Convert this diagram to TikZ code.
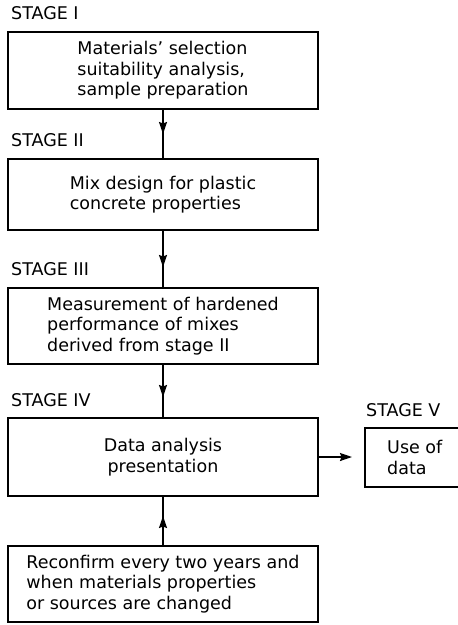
\documentclass[tikz,border=0pt]{standalone}
\usepackage{fontspec}
\setmainfont{DejaVu Sans}
\usetikzlibrary{arrows.meta}
\begin{document}
\begin{tikzpicture}[x=1pt,y=-1pt,
  txt/.style={font=\fontsize{17.5}{20.5}\selectfont},
  box/.style={draw, line width=1.3pt, minimum width=310pt, align=left, inner sep=0pt, txt},
  stagelabel/.style={anchor=base west, inner sep=0pt, txt},
  conn/.style={line width=1.6pt},
  tip/.style={-{Stealth[length=12pt,width=8pt,inset=1.5pt]}}]
\useasboundingbox (0,0) rectangle (458,625);
\clip (0,0) rectangle (458,625);
\fill[white] (0,0) rectangle (458,625);

\node[stagelabel] (l1) at (11,19) {STAGE I};
\node[stagelabel] (l2) at (11,146) {STAGE II};
\node[stagelabel] (l3) at (11,275) {STAGE III};
\node[stagelabel] (l4) at (11,406) {STAGE IV};
\node[stagelabel] (l5) at (366,416) {STAGE V};

\node[box, minimum height=77pt] (s1) at (163,70.5) {Materials’ selection\\suitability analysis,\\sample preparation};
\node[box, minimum height=71pt] (s2) at (163,194.5) {Mix design for plastic\\concrete properties};
\node[box, minimum height=76pt] (s3) at (163,326) {Measurement of hardened\\performance of mixes\\derived from stage II};
\node[box, minimum height=78pt, align=center] (s4) at (163,457) {Data analysis\\presentation};
\node[draw, line width=1.3pt, minimum width=110pt, minimum height=59pt, inner sep=0pt] (s5) at (420,457.5) {};
\node[anchor=west, inner sep=0pt, align=left, txt] (s5t) at (387,457.5) {Use of\\data};
\node[box, minimum height=76pt] (rc) at (163,584) {Reconfirm every two years and\\when materials properties\\or sources are changed};

\coordinate (a1) at (163,134);
\coordinate (a2) at (163,267);
\coordinate (a3) at (163,397);
\coordinate (a4) at (163,516);
\coordinate (a5) at (352,457);

\draw[conn] (s1.south) -- (s2.north);
\draw[conn, tip] (s1.south) -- (a1);
\draw[conn] (s2.south) -- (s3.north);
\draw[conn, tip] (s2.south) -- (a2);
\draw[conn] (s3.south) -- (s4.north);
\draw[conn, tip] (s3.south) -- (a3);
\draw[conn] (rc.north) -- (s4.south);
\draw[conn, tip] (rc.north) -- (a4);
\draw[conn, tip] (s4.east) -- (a5);
\end{tikzpicture}
\end{document}
